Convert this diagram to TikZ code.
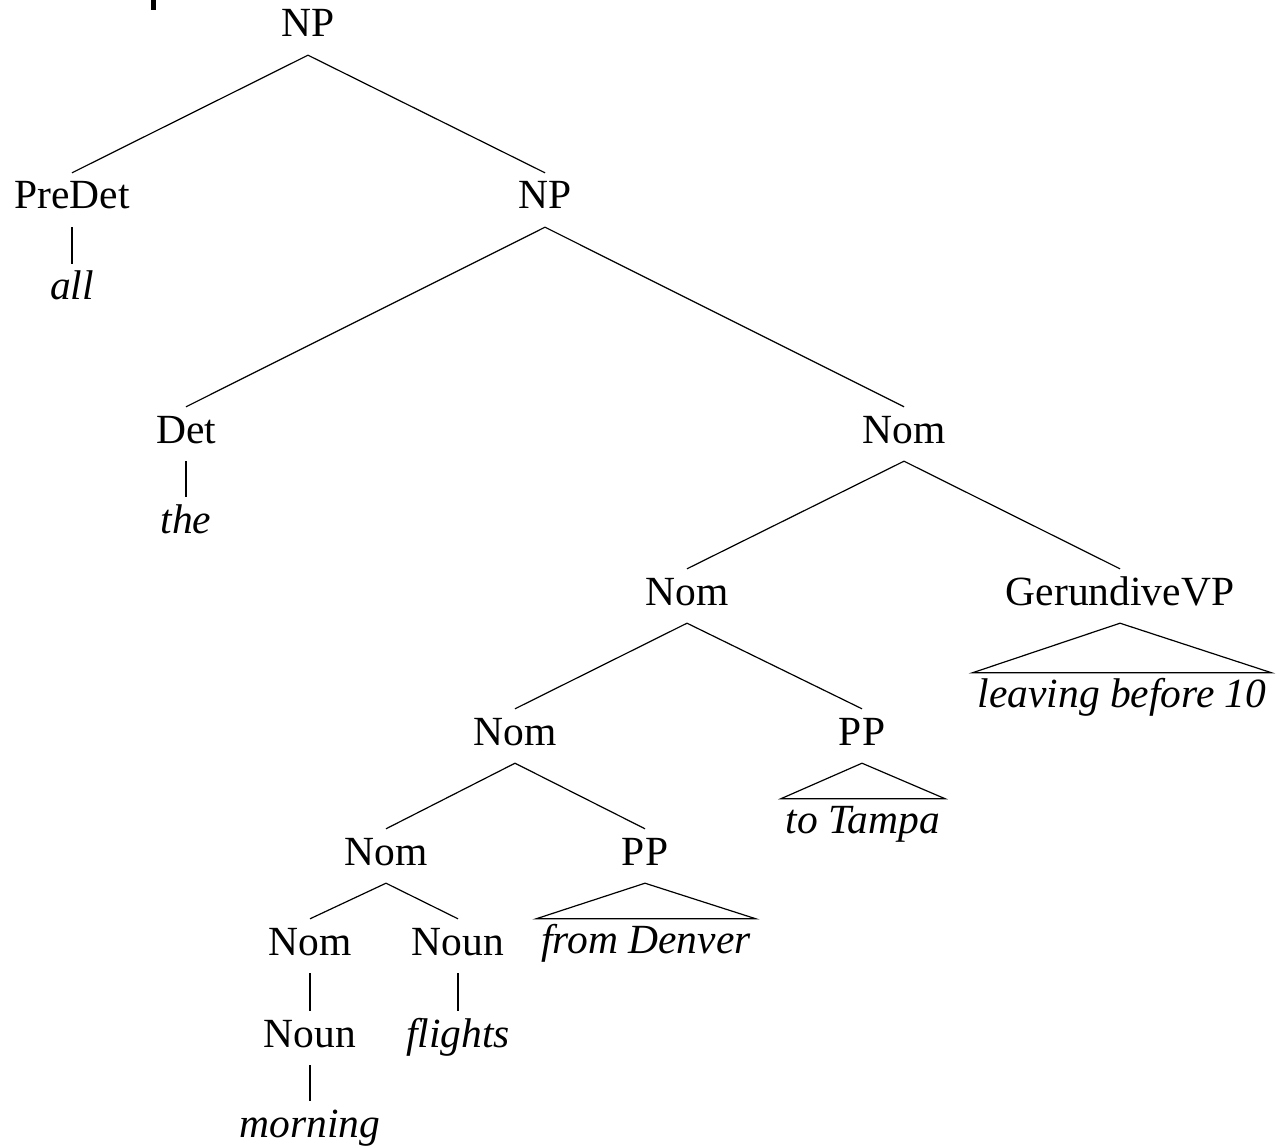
\documentclass[tikz,border=0pt]{standalone}
\usepackage{fontspec}
\setmainfont{Liberation Serif}
\begin{document}
\begin{tikzpicture}[x=1pt,y=-1pt,
  lbl/.style={anchor=base, text height=27pt, text depth=9pt, inner xsep=5pt, inner ysep=9pt, font=\fontsize{41.5}{50}\selectfont},
  leaf/.style={lbl, font=\fontsize{41.5}{50}\selectfont\itshape},
  edge/.style={line width=1.2pt},
  tri/.style={line width=1.2pt, line join=miter}]
\useasboundingbox (0,0) rectangle (1276,1147);
\fill (151,0) rectangle (156,10);
% nodes
\node[lbl] (np) at (308,37) {NP};
\node[lbl] (predet) at (72,209) {PreDet};
\node[lbl] (np2) at (545,209) {NP};
\node[leaf] (all) at (72,300) {all};
\node[lbl] (det) at (186,443) {Det};
\node[lbl] (nom1) at (904,443) {Nom};
\node[leaf] (the) at (186,533) {the};
\node[lbl] (nom2) at (687,605) {Nom};
\node[lbl] (gvp) at (1120,605) {GerundiveVP};
\node[leaf] (leaving) at (1122,707) {leaving before 10};
\node[lbl] (nom3) at (515,745) {Nom};
\node[lbl] (pp1) at (862,745) {PP};
\node[leaf] (tampa) at (863,833) {to Tampa};
\node[lbl] (nom4) at (386,865) {Nom};
\node[lbl] (pp2) at (645,865) {PP};
\node[leaf] (denver) at (646,953) {from Denver};
\node[lbl] (nom5) at (310,955) {Nom};
\node[lbl] (noun1) at (458,955) {Noun};
\node[lbl] (noun2) at (310,1047) {Noun};
\node[leaf] (flights) at (458,1047) {flights};
\node[leaf] (morning) at (310,1137) {morning};
% edges
\draw[edge] (predet.north) -- (np.south) -- (np2.north);
\draw[edge] (predet.south) -- (all.north);
\draw[edge] (det.north) -- (np2.south) -- (nom1.north);
\draw[edge] (det.south) -- (the.north);
\draw[edge] (nom2.north) -- (nom1.south) -- (gvp.north);
\draw[edge] (nom3.north) -- (nom2.south) -- (pp1.north);
\draw[edge] (nom4.north) -- (nom3.south) -- (pp2.north);
\draw[edge] (nom5.north) -- (nom4.south) -- (noun1.north);
\draw[edge] (nom5.south) -- (noun2.north);
\draw[edge] (noun1.south) -- (flights.north);
\draw[edge] (noun2.south) -- (morning.north);
% triangles
\draw[tri] (gvp.south) -- ([yshift=-2pt]leaving.north east) -- ([yshift=-2pt]leaving.north west) -- cycle;
\draw[tri] (pp1.south) -- ([yshift=-2pt]tampa.north east) -- ([yshift=-2pt]tampa.north west) -- cycle;
\draw[tri] (pp2.south) -- ([yshift=-2pt]denver.north east) -- ([yshift=-2pt]denver.north west) -- cycle;
\end{tikzpicture}
\end{document}
